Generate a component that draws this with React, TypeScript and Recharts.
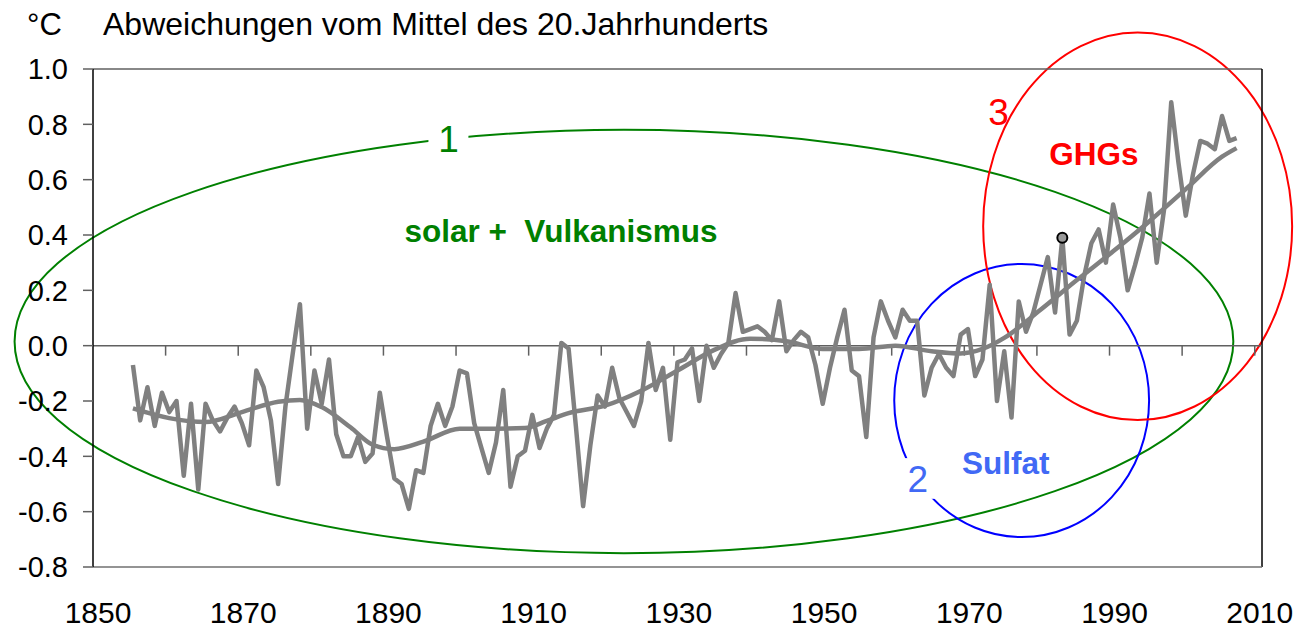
import React from "react";
import {
  LineChart,
  Line,
  XAxis,
  YAxis,
  ReferenceLine,
  ReferenceArea,
  ReferenceDot,
} from "recharts";

// ---- data -------------------------------------------------------------
const years: number[] = [];
for (let y = 1855; y <= 2007; y++) years.push(y);

const anomalies: number[] = [
  -0.07, -0.27, -0.15, -0.29, -0.17, -0.24, -0.2, -0.47, -0.21, -0.52, // 1855-1864
  -0.21, -0.27, -0.31, -0.26, -0.22, -0.28, -0.36, -0.09, -0.15, -0.27, // 1865-1874
  -0.5, -0.22, -0.03, 0.15, -0.3, -0.09, -0.21, -0.05, -0.32, -0.4, // 1875-1884
  -0.4, -0.33, -0.42, -0.39, -0.17, -0.33, -0.48, -0.5, -0.59, -0.45, // 1885-1894
  -0.46, -0.29, -0.21, -0.29, -0.22, -0.09, -0.1, -0.28, -0.37, -0.46, // 1895-1904
  -0.35, -0.16, -0.51, -0.4, -0.38, -0.25, -0.37, -0.3, -0.25, 0.01, // 1905-1914
  -0.01, -0.29, -0.58, -0.36, -0.18, -0.22, -0.08, -0.19, -0.24, -0.29, // 1915-1924
  -0.2, 0.01, -0.16, -0.08, -0.34, -0.06, -0.05, -0.01, -0.2, 0.0, // 1925-1934
  -0.08, -0.03, 0.01, 0.19, 0.05, 0.06, 0.07, 0.05, 0.02, 0.16, // 1935-1944
  -0.02, 0.02, 0.05, 0.03, -0.07, -0.21, -0.08, 0.03, 0.13, -0.09, // 1945-1954
  -0.11, -0.33, 0.03, 0.16, 0.09, 0.03, 0.13, 0.09, 0.09, -0.18, // 1955-1964
  -0.08, -0.03, -0.08, -0.11, 0.04, 0.06, -0.11, -0.05, 0.22, -0.2, // 1965-1974
  -0.02, -0.26, 0.16, 0.05, 0.12, 0.22, 0.32, 0.12, 0.39, 0.04, // 1975-1984
  0.09, 0.25, 0.37, 0.42, 0.3, 0.51, 0.39, 0.2, 0.29, 0.39, // 1985-1994
  0.55, 0.3, 0.49, 0.88, 0.66, 0.47, 0.62, 0.74, 0.73, 0.71, // 1995-2004
  0.83, 0.74, 0.75, // 2005-2007
];

const smoothYears = [
  1855, 1860, 1865, 1870, 1875, 1878, 1881, 1885, 1888, 1891, 1895, 1900,
  1905, 1909, 1912, 1915, 1920, 1925, 1930, 1935, 1940, 1945, 1950, 1955,
  1960, 1965, 1969, 1972, 1975, 1980, 1985, 1990, 1995, 2000, 2005, 2007,
];
const smoothValues = [
  -0.227, -0.262, -0.276, -0.24, -0.203, -0.196, -0.222, -0.296, -0.358,
  -0.374, -0.347, -0.3, -0.3, -0.298, -0.272, -0.244, -0.217, -0.163, -0.09,
  -0.016, 0.025, 0.016, -0.012, -0.012, 0.0, -0.02, -0.028, -0.012, 0.028,
  0.13, 0.237, 0.341, 0.45, 0.566, 0.683, 0.714,
];

const xLabelTicks = [1850, 1870, 1890, 1910, 1930, 1950, 1970, 1990, 2010];
const decadeTicks = [
  1860, 1870, 1880, 1890, 1900, 1910, 1920, 1930, 1940, 1950, 1960, 1970,
  1980, 1990, 2000, 2010,
];
const yTicks = [-0.8, -0.6, -0.4, -0.2, 0.0, 0.2, 0.4, 0.6, 0.8, 1.0];
const X_DOMAIN: [number, number] = [1850, 2011];
const Y_DOMAIN: [number, number] = [-0.8, 1.0];
const MID_YEAR = 0.5; // annual values are plotted at mid-year
const markedYear = 1983;

// annotation ellipses in data coordinates
const ellipses = [
  { name: "1", x1: 1839.2, x2: 2007.05, y1: -0.75, y2: 0.78, color: "#008000" },
  { name: "2", x1: 1960.35, x2: 1995.45, y1: -0.692, y2: 0.2955, color: "#0000FF" },
  { name: "3", x1: 1972.6, x2: 2015.15, y1: -0.269, y2: 1.132, color: "#FF0000" },
];

const annotations = [
  { text: "1", x: 1898.95, y: 0.749, color: "#008000", size: 37, bold: false, bg: 40 },
  { text: "solar +  Vulkanismus", x: 1914.45, y: 0.415, color: "#008000", size: 31.5, bold: true, bg: 0 },
  { text: "2", x: 1963.6, y: -0.48, color: "#4169F5", size: 37, bold: false, bg: 38 },
  { text: "Sulfat", x: 1975.7, y: -0.422, color: "#4169F5", size: 31.5, bold: true, bg: 0 },
  { text: "3", x: 1974.7, y: 0.846, color: "#FF0000", size: 37, bold: false, bg: 0 },
  { text: "GHGs", x: 1987.86, y: 0.695, color: "#FF0000", size: 31.5, bold: true, bg: 0 },
];

const annualData = years.map((yr, i) => ({ x: yr + MID_YEAR, v: anomalies[i] }));
const smoothData = smoothYears.map((yr, i) => ({ x: yr + MID_YEAR, s: smoothValues[i] }));
const markedValue = anomalies[years.indexOf(markedYear)];

const FONT = "Arial, 'Liberation Sans', Helvetica, sans-serif";

const EllipseShape = (color: string) => (props: any) => {
  const { x, y, width, height } = props;
  if (x == null || y == null) return null;
  return (
    <ellipse
      cx={x + width / 2}
      cy={y + height / 2}
      rx={Math.abs(width) / 2}
      ry={Math.abs(height) / 2}
      fill="none"
      stroke={color}
      strokeWidth={2}
    />
  );
};

const TextShape = (a: (typeof annotations)[number]) => (props: any) => {
  const { cx, cy } = props;
  if (cx == null || cy == null) return null;
  return (
    <g>
      {a.bg > 0 && (
        <rect
          x={cx - a.bg / 2}
          y={cy - a.size * 0.55}
          width={a.bg}
          height={a.size * 1.1}
          fill="#ffffff"
        />
      )}
      <text
        x={cx}
        y={cy + a.size * 0.36}
        textAnchor="middle"
        fill={a.color}
        fontSize={a.size}
        fontWeight={a.bold ? "bold" : "normal"}
        fontFamily={FONT}
        style={{ whiteSpace: "pre" }}
      >
        {a.text}
      </text>
    </g>
  );
};

export default function App() {
  return (
    <div
      style={{
        position: "absolute",
        left: 0,
        top: 0,
        width: 1299,
        height: 629,
        background: "#ffffff",
        fontFamily: FONT,
      }}
    >
      <div
        style={{
          position: "absolute",
          left: 27,
          top: 9,
          fontSize: 31,
          lineHeight: "31px",
          color: "#000",
          whiteSpace: "nowrap",
        }}
      >
        °C
      </div>
      <div
        style={{
          position: "absolute",
          left: 103,
          top: 8,
          fontSize: 32,
          lineHeight: "32px",
          color: "#000",
          whiteSpace: "nowrap",
        }}
      >
        Abweichungen vom Mittel des 20.Jahrhunderts
      </div>
      <LineChart
        width={1299}
        height={629}
        margin={{ top: 69, right: 37, bottom: 0, left: 0 }}
        style={{ position: "absolute", left: 0, top: 0 }}
      >
        <XAxis
          type="number"
          dataKey="x"
          domain={X_DOMAIN}
          allowDataOverflow
          ticks={xLabelTicks}
          interval={0}
          height={62}
          tickLine={false}
          tickSize={0}
          tickMargin={35}
          axisLine={{ stroke: "#707070", strokeWidth: 1.5 }}
          tick={{ fill: "#000", fontSize: 30, fontFamily: FONT, dx: 5 }}
        />
        <YAxis
          type="number"
          domain={Y_DOMAIN}
          allowDataOverflow
          ticks={yTicks}
          interval={0}
          width={93}
          tickSize={10}
          tickMargin={15}
          tickFormatter={(v: number) => v.toFixed(1)}
          axisLine={{ stroke: "#000", strokeWidth: 1.5 }}
          tickLine={{ stroke: "#606060", strokeWidth: 1.5 }}
          tick={{ fill: "#000", fontSize: 29, fontFamily: FONT }}
        />
        <ReferenceLine y={1.0} stroke="#606060" strokeWidth={1.5} ifOverflow="visible" />
        <ReferenceLine x={X_DOMAIN[1]} stroke="#000" strokeWidth={1.5} ifOverflow="visible" />
        <ReferenceLine y={0} stroke="#606060" strokeWidth={1.5} ifOverflow="visible" />
        {decadeTicks.map((d) => (
          <ReferenceLine
            key={"t" + d}
            segment={[
              { x: d, y: 0 },
              { x: d, y: -0.036 },
            ]}
            stroke="#606060"
            strokeWidth={1.5}
            ifOverflow="visible"
          />
        ))}
        <Line
          data={annualData}
          dataKey="v"
          type="linear"
          stroke="#808080"
          strokeWidth={4.5}
          strokeLinejoin="round"
          dot={false}
          isAnimationActive={false}
        />
        <Line
          data={smoothData}
          dataKey="s"
          type="monotone"
          stroke="#808080"
          strokeWidth={4.5}
          dot={false}
          isAnimationActive={false}
        />
        <ReferenceDot
          x={markedYear + MID_YEAR}
          y={markedValue}
          r={5}
          fill="#999999"
          stroke="#000"
          strokeWidth={2}
          ifOverflow="visible"
        />
        {ellipses.map((e) => (
          <ReferenceArea
            key={"e" + e.name}
            x1={e.x1}
            x2={e.x2}
            y1={e.y1}
            y2={e.y2}
            ifOverflow="visible"
            shape={EllipseShape(e.color)}
          />
        ))}
        {annotations.map((a) => (
          <ReferenceDot
            key={"a" + a.text}
            x={a.x}
            y={a.y}
            r={0}
            ifOverflow="visible"
            shape={TextShape(a)}
          />
        ))}
      </LineChart>
    </div>
  );
}
